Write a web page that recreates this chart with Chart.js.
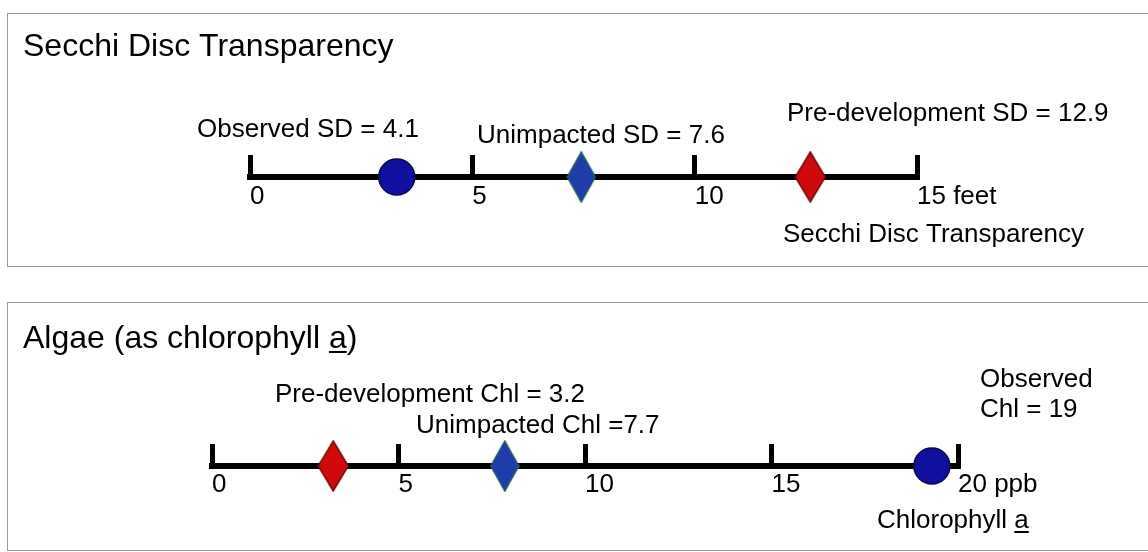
<!DOCTYPE html>
<html>
<head>
<meta charset="utf-8">
<title>Secchi Disc Transparency and Chlorophyll a</title>
<script src="https://cdn.jsdelivr.net/npm/chart.js@4.4.1/dist/chart.umd.min.js"></script>
<style>
  html, body { margin: 0; padding: 0; background: #fff; }
  body { width: 1148px; height: 552px; position: relative; overflow: hidden; }
  .panel { position: absolute; left: 7px; width: 1160px; border: 1px solid #9a9a9a; }
  #secchiPanel { top: 13px; height: 252px; }
  #chlPanel { top: 302px; height: 247px; }
  canvas { display: block; }
</style>
</head>
<body>
<div class="panel" id="secchiPanel"><canvas id="secchiChart" width="1140" height="252"></canvas></div>
<div class="panel" id="chlPanel"><canvas id="chlChart" width="1140" height="247"></canvas></div>
<script>
// Secchi disc transparency, feet
const SD_VALUES = [4.1, 7.6, 12.9];      // observed, unimpacted, pre-development (as printed)
const SD_MARKS = [3.3, 7.45, 12.6];      // where the markers sit on the scale in the picture
const SD_TICKS = ["0", "5", "10", "15 feet"];

// Chlorophyll a, ppb
const CHL_VALUES = [3.2, 7.7, 19];       // pre-development, unimpacted, observed (as printed)
const CHL_MARKS = [3.25, 7.85, 19.3];
const CHL_TICKS = ["0", "5", "10", "15", "20 ppb"];

const FONT = "'Liberation Sans', Arial, Helvetica, sans-serif";
const INK = "#000";

// marker glyphs
function diamond(fill, stroke, hw, hh) {
  const c = document.createElement("canvas");
  c.width = hw * 2 + 2;
  c.height = hh * 2 + 2;
  const g = c.getContext("2d");
  g.beginPath();
  g.moveTo(hw + 1, 1);
  g.lineTo(hw * 2 + 1, hh + 1);
  g.lineTo(hw + 1, hh * 2 + 1);
  g.lineTo(1, hh + 1);
  g.closePath();
  g.fillStyle = fill;
  g.fill();
  g.lineWidth = 1.5;
  g.strokeStyle = stroke;
  g.stroke();
  return c;
}

const CIRCLE = { style: "circle", r: 18, fill: "#1010a0", line: "#0a0a4a" };
const BLUE = { style: diamond("#1f3cab", "#1d5f63", 14, 25), r: 14, fill: "#1f3cab", line: "#1d5f63" };
const RED = { style: diamond("#d00a0a", "#6e0a0a", 15, 25), r: 15, fill: "#d00a0a", line: "#6e0a0a" };

// text drawn on top of each panel
const notesPlugin = {
  id: "notes",
  afterDraw(chart, args, opts) {
    const ctx = chart.ctx;
    ctx.save();
    ctx.fillStyle = INK;
    ctx.strokeStyle = INK;
    ctx.textBaseline = "alphabetic";
    ctx.textAlign = "left";
    (opts.items || []).forEach(n => {
      ctx.font = (n.size || 26) + "px " + FONT;
      ctx.fillText(n.text, n.x, n.y);
      if (n.ul) {
        const x0 = n.x + ctx.measureText(n.text.slice(0, n.ul[0])).width;
        const x1 = n.x + ctx.measureText(n.text.slice(0, n.ul[1])).width;
        ctx.lineWidth = 2;
        ctx.beginPath();
        ctx.moveTo(x0, n.y + 4);
        ctx.lineTo(x1, n.y + 4);
        ctx.stroke();
      }
    });
    ctx.restore();
  }
};

function makeScale(canvasId, marks, styles, tickLabels, max, pad, labelPad, notes) {
  return new Chart(document.getElementById(canvasId), {
    type: "scatter",
    data: {
      datasets: [{
        data: marks.map(x => ({ x: x, y: 0 })),
        pointStyle: styles.map(s => s.style),
        pointRadius: styles.map(s => s.r),
        pointHoverRadius: styles.map(s => s.r),
        backgroundColor: styles.map(s => s.fill),
        borderColor: styles.map(s => s.line),
        borderWidth: 1.5,
        clip: false
      }]
    },
    options: {
      responsive: false,
      animation: false,
      events: [],
      layout: { padding: pad },
      plugins: {
        legend: { display: false },
        tooltip: { enabled: false },
        notes: { items: notes }
      },
      scales: {
        x: {
          type: "linear",
          min: 0,
          max: max,
          ticks: {
            stepSize: 5,
            align: "start",
            padding: labelPad,
            color: INK,
            font: { family: FONT, size: 26 },
            callback: (v, i) => tickLabels[i]
          },
          grid: { color: INK, lineWidth: 5, drawTicks: false },
          border: { color: INK, width: 6 },
          afterFit: s => { s.height = 40; }
        },
        y: { display: false, min: 0, max: 1 }
      }
    },
    plugins: [notesPlugin]
  });
}

makeScale("secchiChart", SD_MARKS, [CIRCLE, BLUE, RED], SD_TICKS, 15,
  { left: 242, right: 231, top: 141, bottom: 49 }, 4, [
    { text: "Secchi Disc Transparency", x: 15, y: 42, size: 32 },
    { text: "Observed SD = " + SD_VALUES[0], x: 189, y: 123 },
    { text: "Unimpacted SD = " + SD_VALUES[1], x: 469, y: 129 },
    { text: "Pre-development SD = " + SD_VALUES[2], x: 779, y: 107 },
    { text: "Secchi Disc Transparency", x: 775, y: 228 }
  ]);

makeScale("chlChart", CHL_MARKS, [RED, BLUE, CIRCLE], CHL_TICKS, 20,
  { left: 204, right: 190, top: 141, bottom: 44 }, 3, [
    { text: "Algae (as chlorophyll a)", x: 15, y: 45, size: 32, ul: [22, 23] },
    { text: "Pre-development Chl = " + CHL_VALUES[0], x: 267, y: 99 },
    { text: "Unimpacted Chl =" + CHL_VALUES[1], x: 408, y: 130 },
    { text: "Observed", x: 972, y: 84 },
    { text: "Chl = " + CHL_VALUES[2], x: 972, y: 114 },
    { text: "Chlorophyll a", x: 869, y: 225, ul: [12, 13] }
  ]);
</script>
</body>
</html>
